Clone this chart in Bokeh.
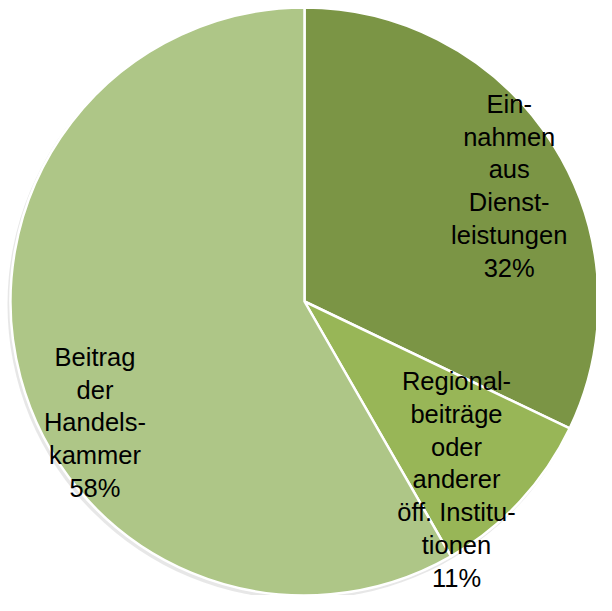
import math
from bokeh.plotting import figure
from bokeh.models import Range1d, ColumnDataSource
from bokeh.core.properties import value
from bokeh.embed import file_html
from bokeh.resources import INLINE

# Data
categories = ["Einnahmen aus Dienstleistungen",
              "Regionalbeiträge oder anderer öff. Institutionen",
              "Beitrag der Handelskammer"]
shares = [32.1, 9.6, 58.3]
pct_labels = ["32%", "11%", "58%"]
label_texts = ["Ein-\nnahmen\naus\nDienst-\nleistungen",
               "Regional-\nbeiträge\noder\nanderer\nöff. Institu-\ntionen",
               "Beitrag\nder\nHandels-\nkammer"]
colors = ["#7b9545", "#98b657", "#aec687"]

W, H = 596, 595
cx, cy, R = 304, 294, 294

p = figure(width=W, height=H, output_backend="svg", toolbar_location=None,
           x_range=Range1d(0, W), y_range=Range1d(0, H), min_border=0)
p.axis.visible = False
p.grid.visible = False
p.outline_line_color = None
p.background_fill_color = "white"
p.border_fill_color = "white"

total = sum(shares)
starts, ends = [], []
cum = 0.0
for s in shares:
    starts.append(math.pi / 2 - cum / total * 2 * math.pi)
    cum += s
    ends.append(math.pi / 2 - cum / total * 2 * math.pi)

src = ColumnDataSource(dict(start=starts, end=ends, color=colors,
                            x=[cx] * 3, y=[cy] * 3))

# soft shadow
p.circle(x=cx - 2, y=cy - 3, radius=R + 1, fill_color="#bbbbbb",
         fill_alpha=0.35, line_color=None)
p.wedge(x="x", y="y", radius=R, start_angle="start", end_angle="end",
        direction="clock", fill_color="color", line_color="white",
        line_width=2.5, source=src)

# label placement (polar offset from centre: angle in degrees, radius fraction)
label_angle = [29.5, -49.5, -150.0]
label_rfrac = [0.80, 0.796, 0.823]
lx = [cx + R * f * math.cos(math.radians(a)) for a, f in zip(label_angle, label_rfrac)]
ly = [cy + R * f * math.sin(math.radians(a)) for a, f in zip(label_angle, label_rfrac)]
full = [t + "\n" + pc for t, pc in zip(label_texts, pct_labels)]
lsrc = ColumnDataSource(dict(x=lx, y=ly, text=full))
p.text(x="x", y="y", text="text", source=lsrc, text_align="center",
       text_baseline="middle", text_font_size="25.5px", text_line_height=1.17,
       text_color="black",
       text_font=value("'Liberation Sans', Arial, sans-serif"))

open("out.html", "w").write(file_html(p, INLINE))
